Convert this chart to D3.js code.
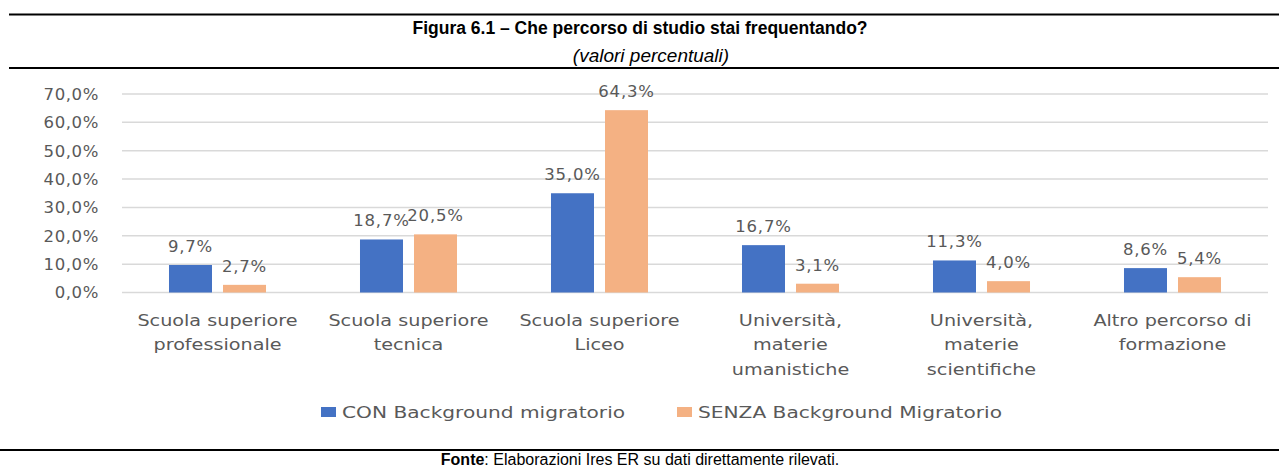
<!DOCTYPE html>
<html lang="it">
    <head>
        <meta charset="utf-8">
        <title>Figura 6.1</title>
        <script src="https://d3js.org/d3.v7.min.js"></script>
        <style type="text/css">
            body{
                margin: 0;
                background: white;
            }
            .head{
                font-family: "Liberation Sans Narrow", "Liberation Sans", sans-serif;
                fill: black;
            }
            .chart text{
                font-family: "DejaVu Sans", sans-serif;
                fill: #595959;
            }
        </style>
    </head>
    <body>
        <script type="text/javascript">

            //data
            const categories = [
                ["Scuola superiore", "professionale"],
                ["Scuola superiore", "tecnica"],
                ["Scuola superiore", "Liceo"],
                ["Università,", "materie", "umanistiche"],
                ["Università,", "materie", "scientifiche"],
                ["Altro percorso di", "formazione"]
            ];
            const seriesNames = ["CON Background migratorio", "SENZA Background Migratorio"];
            const conValues = [9.7, 18.7, 35.0, 16.7, 11.3, 8.6];
            const senzaValues = [2.7, 20.5, 64.3, 3.1, 4.0, 5.4];
            const yTicks = [0, 10, 20, 30, 40, 50, 60, 70];

            const colors = ["#4472C4", "#F4B183"];

            const w = 1279;
            const h = 470;

            const svg = d3.select("body")
                .append("svg")
                .attr("width", w)
                .attr("height", h);

            //title block and rules
            svg.append("line").attr("x1", 9).attr("x2", w).attr("y1", 14.5).attr("y2", 14.5)
                .attr("stroke", "black").attr("stroke-width", 2);
            svg.append("line").attr("x1", 9).attr("x2", w).attr("y1", 68).attr("y2", 68)
                .attr("stroke", "black").attr("stroke-width", 2);
            svg.append("line").attr("x1", 0).attr("x2", w).attr("y1", 450).attr("y2", 450)
                .attr("stroke", "black").attr("stroke-width", 2);

            svg.append("text")
                .attr("class", "head")
                .attr("x", 640).attr("y", 34)
                .attr("text-anchor", "middle")
                .style("font-size", "17.5px")
                .style("font-weight", "bold")
                .text("Figura 6.1 – Che percorso di studio stai frequentando?");

            svg.append("text")
                .attr("class", "head")
                .attr("x", 651).attr("y", 62)
                .attr("text-anchor", "middle")
                .style("font-size", "19px")
                .style("font-style", "italic")
                .text("(valori percentuali)");

            const fonte = svg.append("text")
                .attr("class", "head")
                .attr("x", 640).attr("y", 465)
                .attr("text-anchor", "middle")
                .style("font-size", "16px");
            fonte.append("tspan").style("font-weight", "bold").text("Fonte");
            fonte.append("tspan").text(": Elaborazioni Ires ER su dati direttamente rilevati.");

            //chart
            const chart = svg.append("g").attr("class", "chart");

            const x0 = d3.scaleBand()
                .domain(d3.range(categories.length))
                .range([122, 1268]);

            const x1 = d3.scaleBand()
                .domain([0, 1])
                .range([0, x0.bandwidth()])
                .paddingInner(0.204)
                .paddingOuter(0.87);

            const y = d3.scaleLinear()
                .domain([0, 70])
                .range([292.5, 94]);

            //gridlines
            chart.selectAll("line.grid")
                .data(yTicks)
                .enter()
                .append("line")
                .attr("class", "grid")
                .attr("x1", 122)
                .attr("x2", 1268)
                .attr("y1", d => y(d))
                .attr("y2", d => y(d))
                .attr("stroke", "#D9D9D9")
                .attr("stroke-width", 1.5);

            //y tick labels
            const fmt = v => d3.format(".1f")(v).replace(".", ",") + "%";

            chart.selectAll("text.ytick")
                .data(yTicks)
                .enter()
                .append("text")
                .attr("class", "ytick")
                .attr("x", 99)
                .attr("y", d => y(d))
                .attr("dy", "0.36em")
                .attr("text-anchor", "end")
                .style("font-size", "16.5px")
                .style("letter-spacing", "0.6px")
                .text(fmt);

            //bars
            const rows = categories.map((c, i) => [conValues[i], senzaValues[i]]);

            const groups = chart.selectAll("g.cat")
                .data(rows)
                .enter()
                .append("g")
                .attr("class", "cat")
                .attr("transform", (d, i) => "translate(" + x0(i) + ",0)");

            groups.selectAll("rect")
                .data(d => d)
                .enter()
                .append("rect")
                .attr("x", (d, j) => x1(j))
                .attr("y", d => y(d))
                .attr("width", x1.bandwidth())
                .attr("height", d => y(0) - y(d))
                .attr("fill", (d, j) => colors[j]);

            groups.selectAll("text.val")
                .data(d => d)
                .enter()
                .append("text")
                .attr("class", "val")
                .attr("x", (d, j) => x1(j) + x1.bandwidth() / 2)
                .attr("y", d => y(d) - 13)
                .attr("text-anchor", "middle")
                .style("font-size", "16.5px")
                .style("letter-spacing", "0.8px")
                .text(fmt);

            //category labels (the original is stretched sideways)
            const catLabels = chart.selectAll("g.catlabel")
                .data(categories)
                .enter()
                .append("g")
                .attr("class", "catlabel")
                .attr("transform", (d, i) => "translate(" + (x0(i) + x0.bandwidth() / 2) + ",326) scale(1.2,1)")
                .append("text")
                .attr("text-anchor", "middle")
                .style("font-size", "16px");

            catLabels.selectAll("tspan")
                .data(d => d)
                .enter()
                .append("tspan")
                .attr("x", 0)
                .attr("dy", (d, k) => k === 0 ? 0 : 24.5)
                .text(d => d);

            //legend
            const legendX = [321, 677];
            const legend = chart.selectAll("g.legend")
                .data(seriesNames)
                .enter()
                .append("g")
                .attr("class", "legend")
                .attr("transform", (d, i) => "translate(" + legendX[i] + ",412)");

            legend.append("rect")
                .attr("x", 0)
                .attr("y", -5)
                .attr("width", 15)
                .attr("height", 10)
                .attr("fill", (d, i) => colors[i]);

            legend.append("text")
                .attr("transform", "translate(21,0) scale(1.26,1)")
                .attr("dy", "0.36em")
                .style("font-size", "16px")
                .text(d => d);

        </script>
    </body>
</html>
